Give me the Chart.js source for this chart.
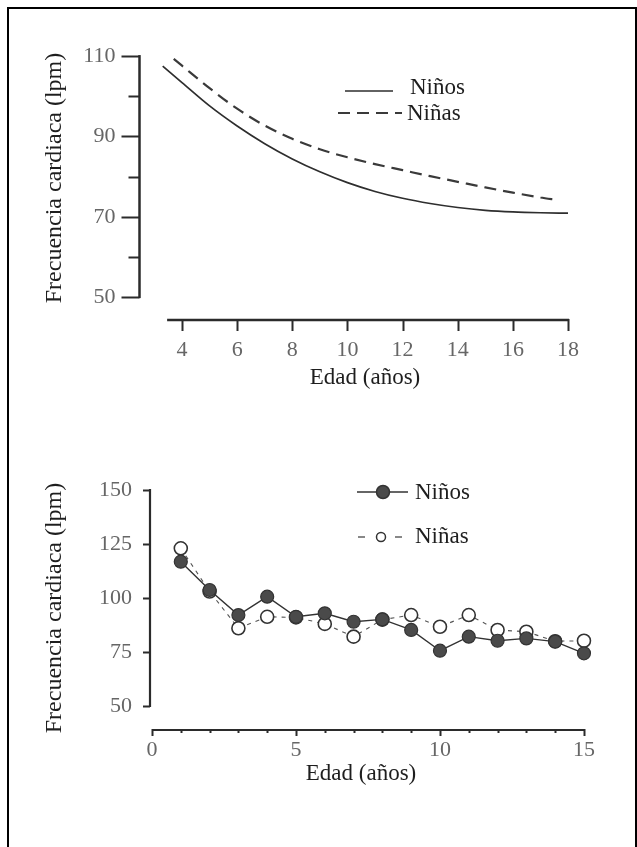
<!DOCTYPE html>
<html><head><meta charset="utf-8">
<script src="https://cdn.jsdelivr.net/npm/chart.js@4.4.1/dist/chart.umd.min.js"></script>
<style>
html,body{margin:0;padding:0;background:#fff;}
body{width:637px;height:847px;position:relative;overflow:hidden;}
#frame{position:absolute;left:7px;top:7px;width:630px;height:860px;border:2.5px solid #000;border-bottom:none;box-sizing:border-box;}
canvas{position:absolute;left:0;}
#c1{top:0}
#c2{top:420px}
</style></head><body>
<div id="frame"></div>
<canvas id="c1" width="637" height="420"></canvas>
<canvas id="c2" width="637" height="427"></canvas>
<script>
// ---------- data: top chart ----------
const seriesNames = ['Niños', 'Niñas'];
const xTitle = 'Edad (años)';
const yTitle = 'Frecuencia cardiaca (lpm)';

const ages1Ninos = [3.3, 4, 5, 6, 7, 8, 9, 10, 11, 12, 13, 14, 15, 16, 17, 18];
const hr1Ninos   = [107.5, 103.4, 97.6, 92.6, 88.2, 84.4, 81.2, 78.5, 76.3, 74.6, 73.3, 72.3, 71.6, 71.2, 71.0, 70.9];
const ages1Ninas = [3.7, 4, 5, 6, 7, 8, 9, 10, 11, 12, 13, 14, 15, 16, 17, 17.6];
const hr1Ninas   = [109.3, 107.6, 102, 96.9, 92.7, 89.4, 86.8, 84.8, 83.1, 81.6, 80.1, 78.7, 77.3, 76, 74.8, 74.2];
const xTicks1  = [4, 6, 8, 10, 12, 14, 16, 18];
const yTicks1  = [50, 60, 70, 80, 90, 100, 110];
const yLabels1 = [50, 70, 90, 110];

// ---------- data: bottom chart ----------
const ages2    = [1, 2, 3, 4, 5, 6, 7, 8, 9, 10, 11, 12, 13, 14, 15];
const hr2Ninos = [116.8, 103.7, 92.1, 100.6, 91.3, 92.9, 89, 90.1, 85.2, 75.6, 82.1, 80.2, 81.3, 79.8, 74.4];
const hr2Ninas = [123, 103, 86, 91.3, 91, 88, 82.1, 90, 92.1, 86.7, 92.1, 85.2, 84.4, 80, 80.2];
const xTicks2  = [0, 5, 10, 15];
const xMinor2  = [0, 1, 2, 3, 4, 5, 6, 7, 8, 9, 10, 11, 12, 13, 14, 15];
const yTicks2  = [50, 75, 100, 125, 150];

const SERIF = '"Liberation Serif", "DejaVu Serif", serif';
const toPts = (xs, ys) => xs.map((x, i) => ({x, y: ys[i]}));

// ---------- decoration plugin: axes lines, tick marks, titles, legend ----------
function decoPlugin(cfg) {
  return {
    id: 'deco',
    afterDraw(chart) {
      const {ctx, scales: {x, y}, chartArea: ca} = chart;
      ctx.save();
      ctx.strokeStyle = '#2b2b2b';
      ctx.lineCap = 'butt';
      const ax = ca.left;
      ctx.lineWidth = cfg.axisWidth;
      ctx.beginPath();
      ctx.moveTo(ax, y.getPixelForValue(cfg.yTicks[cfg.yTicks.length - 1]) - 1);
      ctx.lineTo(ax, y.getPixelForValue(cfg.yTicks[0]) + 1);
      ctx.stroke();
      ctx.lineWidth = 2;
      cfg.yTicks.forEach(v => {
        const py = Math.round(y.getPixelForValue(v)) + 0.5;
        const len = cfg.yMajor.includes(v) ? cfg.yMajorLen : cfg.yMinorLen;
        ctx.beginPath(); ctx.moveTo(ax - len, py); ctx.lineTo(ax, py); ctx.stroke();
      });
      const by = ca.bottom;
      ctx.lineWidth = cfg.axisWidth;
      ctx.beginPath();
      ctx.moveTo(x.getPixelForValue(cfg.xStart), by);
      ctx.lineTo(x.getPixelForValue(cfg.xEnd) + 1, by);
      ctx.stroke();
      ctx.lineWidth = 2;
      cfg.xTickMarks.forEach(v => {
        const px = Math.round(x.getPixelForValue(v)) + 0.5;
        const len = cfg.xMajor.includes(v) ? cfg.xMajorLen : cfg.xMinorLen;
        ctx.beginPath(); ctx.moveTo(px, by - cfg.xUp); ctx.lineTo(px, by + len); ctx.stroke();
      });
      ctx.fillStyle = '#1e1e1e';
      ctx.textAlign = 'center';
      ctx.textBaseline = 'middle';
      ctx.font = cfg.xTitleSize + 'px ' + SERIF;
      ctx.fillText(xTitle, cfg.xTitlePos[0], cfg.xTitlePos[1]);
      ctx.save();
      ctx.translate(cfg.yTitlePos[0], cfg.yTitlePos[1]);
      ctx.rotate(-Math.PI / 2);
      ctx.font = cfg.yTitleSize + 'px ' + SERIF;
      ctx.fillText(yTitle, 0, 0);
      ctx.restore();
      ctx.font = cfg.legendSize + 'px ' + SERIF;
      ctx.textAlign = 'left';
      cfg.legend.forEach((it, i) => {
        const ds = chart.data.datasets[i];
        ctx.strokeStyle = ds.borderColor;
        ctx.lineWidth = it.lineWidth;
        ctx.setLineDash(it.dash || []);
        it.segs.forEach(s => {
          ctx.beginPath(); ctx.moveTo(s[0], it.y); ctx.lineTo(s[1], it.y); ctx.stroke();
        });
        ctx.setLineDash([]);
        if (it.marker) {
          ctx.beginPath();
          ctx.arc(it.marker[0], it.y, it.marker[1], 0, Math.PI * 2);
          ctx.fillStyle = ds.pointBackgroundColor;
          ctx.fill();
          ctx.lineWidth = 1.5;
          ctx.strokeStyle = ds.pointBorderColor;
          ctx.stroke();
        }
        ctx.fillStyle = '#1e1e1e';
        ctx.fillText(ds.label, it.textX, it.textY);
      });
      ctx.restore();
    }
  };
}

const tickFont = {family: SERIF, size: 22};
const tickColor = '#666';

// ---------- top chart ----------
new Chart(document.getElementById('c1'), {
  type: 'line',
  data: {
    datasets: [
      {label: seriesNames[0], data: toPts(ages1Ninos, hr1Ninos), borderColor: '#2e2e2e', borderWidth: 1.7,
       pointRadius: 0, cubicInterpolationMode: 'monotone', fill: false},
      {label: seriesNames[1], data: toPts(ages1Ninas, hr1Ninas), borderColor: '#3a3a3a', borderWidth: 2.2,
       borderDash: [12, 7], pointRadius: 0, cubicInterpolationMode: 'monotone', fill: false}
    ]
  },
  options: {
    responsive: false, animation: false, devicePixelRatio: 1,
    layout: {padding: {left: 20, top: 36, right: 66.2, bottom: 0}},
    plugins: {legend: {display: false}, tooltip: {enabled: false}},
    scales: {
      x: {type: 'linear', min: 2.4585, max: 18.1,
          afterBuildTicks: s => { s.ticks = xTicks1.map(v => ({value: v})); },
          afterFit: s => { s.height = 100; },
          ticks: {font: tickFont, color: tickColor, padding: 17, maxRotation: 0, autoSkip: false,
                  callback: v => String(v)},
          grid: {display: false, drawTicks: false}, border: {display: false}},
      y: {type: 'linear', min: 44.3, max: 114.7,
          afterBuildTicks: s => { s.ticks = yTicks1.map(v => ({value: v})); },
          afterFit: s => { s.width = 119.5; },
          ticks: {font: tickFont, color: tickColor, padding: 24,
                  callback: v => yLabels1.includes(v) ? String(v) : ''},
          grid: {display: false, drawTicks: false}, border: {display: false}}
    }
  },
  plugins: [decoPlugin({
    axisWidth: 2.5, yTicks: yTicks1, yMajor: yLabels1, yMajorLen: 18, yMinorLen: 11,
    xStart: 3.46, xEnd: 18, xTickMarks: xTicks1, xMajor: xTicks1, xMajorLen: 11, xMinorLen: 11, xUp: 1,
    xTitleSize: 23, xTitlePos: [365, 378], yTitleSize: 24, yTitlePos: [55, 178], legendSize: 23,
    legend: [
      {y: 91, segs: [[345, 393]], lineWidth: 1.7, textX: 410, textY: 88},
      {y: 113, segs: [[338, 402]], dash: [12, 7], lineWidth: 2.2, textX: 407, textY: 114}
    ]
  })]
});

// ---------- bottom chart ----------
new Chart(document.getElementById('c2'), {
  type: 'line',
  data: {
    datasets: [
      {label: seriesNames[0], data: toPts(ages2, hr2Ninos), borderColor: '#333', borderWidth: 1.4,
       pointRadius: 6.5, pointBackgroundColor: '#4a4a4a', pointBorderColor: '#333', pointBorderWidth: 1.2,
       tension: 0, fill: false},
      {label: seriesNames[1], data: toPts(ages2, hr2Ninas), borderColor: '#555', borderWidth: 1.1,
       borderDash: [4, 5], pointRadius: 6.5, pointBackgroundColor: '#fff', pointBorderColor: '#333',
       pointBorderWidth: 1.6, tension: 0, fill: false}
    ]
  },
  options: {
    responsive: false, animation: false, devicePixelRatio: 1,
    layout: {padding: {left: 20, top: 66, right: 44.4, bottom: 0}},
    plugins: {legend: {display: false}, tooltip: {enabled: false}},
    scales: {
      x: {type: 'linear', min: -0.0694, max: 15.3,
          afterBuildTicks: s => { s.ticks = xTicks2.map(v => ({value: v})); },
          afterFit: s => { s.height = 117; },
          ticks: {font: tickFont, color: tickColor, padding: 7, maxRotation: 0, autoSkip: false,
                  callback: v => String(v)},
          grid: {display: false, drawTicks: false}, border: {display: false}},
      y: {type: 'linear', min: 38.89, max: 151.85,
          afterBuildTicks: s => { s.ticks = yTicks2.map(v => ({value: v})); },
          afterFit: s => { s.width = 130; },
          ticks: {font: tickFont, color: tickColor, padding: 18, callback: v => String(v)},
          grid: {display: false, drawTicks: false}, border: {display: false}}
    }
  },
  plugins: [decoPlugin({
    axisWidth: 2.2, yTicks: yTicks2, yMajor: yTicks2, yMajorLen: 7, yMinorLen: 7,
    xStart: 0, xEnd: 15, xTickMarks: xMinor2, xMajor: [0, 5, 10, 15], xMajorLen: 6, xMinorLen: 3, xUp: 1,
    xTitleSize: 23, xTitlePos: [361, 354], yTitleSize: 24, yTitlePos: [55, 188], legendSize: 23,
    legend: [
      {y: 72, segs: [[357, 408]], lineWidth: 1.4, marker: [383, 6.5], textX: 415, textY: 73},
      {y: 117, segs: [[358, 365], [395, 402]], lineWidth: 1.4, marker: [381, 4.5], textX: 415, textY: 117}
    ]
  })]
});
</script>
</body></html>
